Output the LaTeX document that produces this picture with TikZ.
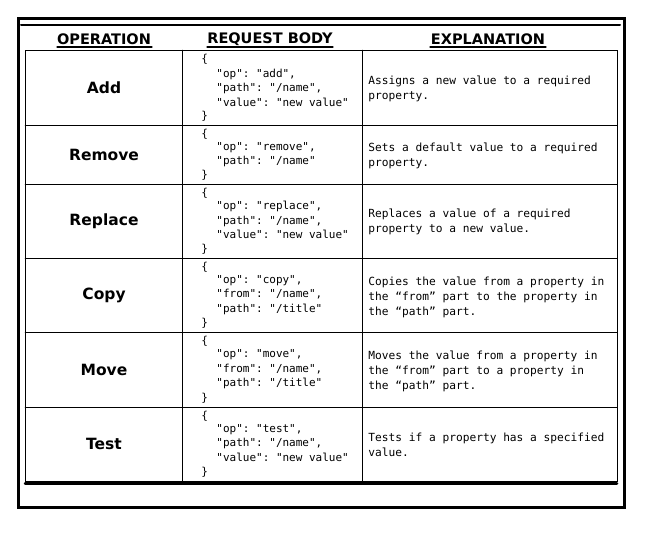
\documentclass[tikz,border=0pt]{standalone}
\usepackage{fontspec}
\setmainfont{DejaVu Sans}
\setmonofont{DejaVu Sans Mono}
\usetikzlibrary{calc}

\begin{document}
\begin{tikzpicture}[x=1pt,y=-1pt,thick,line cap=round] %% tikz
	\tikzstyle{biaoti}=[font=\bfseries\fontsize{14.5}{16}\selectfont,inner sep=1pt];
	\tikzstyle{caozuo}=[font=\bfseries\fontsize{15.5}{18}\selectfont];
	\tikzstyle{daima}=[font=\ttfamily\fontsize{11}{14.5}\selectfont,align=left,anchor=west,inner sep=0pt];
	\tikzstyle{shuoming}=[font=\ttfamily\fontsize{11.2}{15}\selectfont,align=left,anchor=west,inner sep=0pt];
	\useasboundingbox (0,0) rectangle (664,547);
	%% frame
	\draw[line width=3pt] (18,18) rectangle (624,507);
	\draw[line width=2pt] (21,25) -- (620,25);
	\draw[line width=2.5pt] (25,483.5) -- (617,483.5);
	\draw[thin] (25,50) rectangle (617,481);
	\foreach \y in {125,184,258,332,407} \draw[thin] (25,\y) -- (617,\y);
	\foreach \x in {182,362} \draw[thin] (\x,50) -- (\x,481);
	%% head
	\foreach \a/\b in {57/152,207/333,430/546} \draw[line width=1.2pt] (\a,47) -- (\b,47);
	\node[biaoti] (hop) at (104,39) {OPERATION};
	\node[biaoti] (hbody) at (270,39) {REQUEST BODY};
	\node[biaoti] (hexp) at (488,39) {EXPLANATION};
	%% braces
	\foreach \t/\b [count=\i] in {50/125,125/184,184/258,258/332,332/407,407/481} {
		\node[daima] (l\i) at (201,\t+9) {\{};
		\node[daima] (r\i) at (201,\b-9) {\}};
	}
	%% rows
	\node[caozuo] (add) at (104,87.5) {Add};
	\node[daima] (cadd) at (216,87.5) {"op": "add",\\"path": "/name",\\"value": "new value"};
	\node[shuoming] (eadd) at (368,89) {Assigns a new value to a required\\property.};
	\node[caozuo] (remove) at (104,154.5) {Remove};
	\node[daima] (cremove) at (216,154.5) {"op": "remove",\\"path": "/name"};
	\node[shuoming] (eremove) at (368,155.5) {Sets a default value to a required\\property.};
	\node[caozuo] (replace) at (104,221) {Replace};
	\node[daima] (creplace) at (216,220) {"op": "replace",\\"path": "/name",\\"value": "new value"};
	\node[shuoming] (ereplace) at (368,222) {Replaces a value of a required\\property to a new value.};
	\node[caozuo] (copy) at (104,295) {Copy};
	\node[daima] (ccopy) at (216,295) {"op": "copy",\\"from": "/name",\\"path": "/title"};
	\node[shuoming] (ecopy) at (368,297) {Copies the value from a property in\\the “from” part to the property in\\the “path” part.};
	\node[caozuo] (move) at (104,369.5) {Move};
	\node[daima] (cmove) at (216,369.5) {"op": "move",\\"from": "/name",\\"path": "/title"};
	\node[shuoming] (emove) at (368,371) {Moves the value from a property in\\the “from” part to a property in\\the “path” part.};
	\node[caozuo] (test) at (104,444) {Test};
	\node[daima] (ctest) at (216,443) {"op": "test",\\"path": "/name",\\"value": "new value"};
	\node[shuoming] (etest) at (368,445) {Tests if a property has a specified\\value.};
\end{tikzpicture}
\end{document}
